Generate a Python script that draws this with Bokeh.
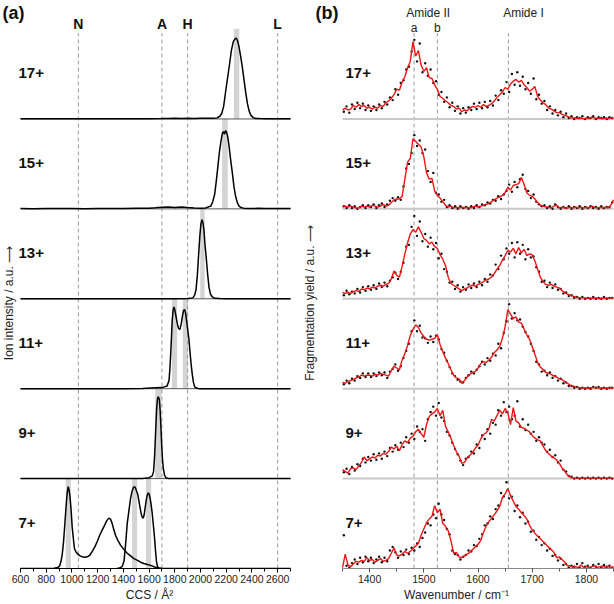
import numpy as np
from bokeh.plotting import figure
from bokeh.layouts import row
from bokeh.models import Range1d, SingleIntervalTicker
from bokeh.core.properties import value
from bokeh.embed import file_html
from bokeh.resources import INLINE

FONT = "Liberation Sans"
charges = ["7+", "9+", "11+", "13+", "15+", "17+"]

# ---------------- panel (a): arrival time / CCS distributions ----------------
ref_pos = [1050, 1700, 1900, 2600]
ref_lab = ["N", "A", "H", "L"]

ccs_17_x = [600, 700, 800, 900, 1000, 1100, 1200, 1300, 1400, 1500, 1600, 1700, 1750, 1800, 1850, 1900, 1950, 2000, 2050, 2100,
            2130, 2150, 2165, 2180, 2195, 2210, 2225, 2240, 2255, 2268, 2278, 2288, 2300, 2312, 2325, 2338, 2352, 2365, 2378, 2392,
            2410, 2430, 2460, 2500, 2550, 2600, 2650, 2700]
ccs_17_y = [0.002, 0.003, 0.001, 0.003, 0.002, 0.001, 0.003, 0.002, 0.001, 0.003, 0.002, 0.004, 0.006, 0.008, 0.006, 0.008, 0.006, 0.008, 0.007, 0.008,
            0.012, 0.03, 0.06, 0.14, 0.30, 0.45, 0.60, 0.76, 0.86, 0.89, 0.90, 0.87, 0.80, 0.70, 0.58, 0.44, 0.29, 0.17, 0.09, 0.04,
            0.015, 0.006, 0.004, 0.002, 0.003, 0.001, 0.002, 0.001]

ccs_15_x = [600, 700, 800, 900, 1000, 1100, 1200, 1300, 1400, 1500, 1600, 1650, 1700, 1750, 1800, 1850, 1900, 1950, 2000, 2040,
            2060, 2080, 2095, 2110, 2122, 2135, 2147, 2160, 2170, 2178, 2186, 2192, 2198, 2205, 2212, 2222, 2234, 2246, 2260, 2273,
            2286, 2300, 2315, 2335, 2360, 2400, 2450, 2500, 2550, 2600, 2650, 2700]
ccs_15_y = [0.004, 0.002, 0.005, 0.003, 0.004, 0.002, 0.005, 0.003, 0.004, 0.006, 0.008, 0.012, 0.018, 0.02, 0.016, 0.02, 0.014, 0.01, 0.008, 0.01,
            0.02, 0.03, 0.08, 0.16, 0.30, 0.47, 0.63, 0.76, 0.84, 0.86, 0.83, 0.86, 0.87, 0.84, 0.80, 0.70, 0.55, 0.42, 0.25, 0.14,
            0.07, 0.03, 0.015, 0.008, 0.005, 0.004, 0.006, 0.003, 0.005, 0.003, 0.004, 0.003]

ccs_13_x = [600, 800, 1000, 1200, 1400, 1600, 1800, 1900, 1940, 1955, 1965, 1975, 1985, 1995, 2003, 2011, 2019, 2027, 2035, 2045,
            2055, 2066, 2078, 2092, 2110, 2150, 2200, 2300, 2400, 2500, 2600, 2700]
ccs_13_y = [0, 0, 0, 0, 0, 0, 0.001, 0.003, 0.01, 0.04, 0.10, 0.25, 0.48, 0.70, 0.83, 0.88, 0.85, 0.76, 0.60, 0.45,
            0.28, 0.13, 0.05, 0.02, 0.005, 0.002, 0, 0, 0, 0, 0, 0]

ccs_11_x = [600, 800, 1000, 1200, 1400, 1550, 1650, 1700, 1740, 1755, 1762, 1768, 1774, 1780, 1787, 1793, 1800, 1810, 1820, 1830,
            1840, 1850, 1860, 1868, 1876, 1884, 1893, 1902, 1910, 1920, 1928, 1936, 1945, 1955, 1965, 1980, 2000, 2100, 2300, 2500, 2700]
ccs_11_y = [0, 0, 0, 0, 0, 0.002, 0.01, 0.012, 0.03, 0.09, 0.22, 0.38, 0.56, 0.76, 0.87, 0.91, 0.88, 0.80, 0.72, 0.67,
            0.66, 0.72, 0.81, 0.87, 0.88, 0.84, 0.74, 0.64, 0.55, 0.38, 0.26, 0.16, 0.07, 0.02, 0.01, 0.003, 0, 0, 0, 0, 0]

ccs_9_x = [600, 800, 1000, 1200, 1400, 1550, 1600, 1625, 1635, 1643, 1651, 1658, 1664, 1669, 1675, 1680, 1686, 1692, 1698, 1704,
           1711, 1720, 1730, 1750, 1800, 2000, 2200, 2400, 2700]
ccs_9_y = [0, 0, 0, 0, 0, 0.002, 0.01, 0.03, 0.08, 0.25, 0.52, 0.75, 0.87, 0.91, 0.90, 0.88, 0.76, 0.58, 0.38, 0.22,
           0.11, 0.04, 0.01, 0.002, 0, 0, 0, 0, 0]

ccs_7a_x = [600, 700, 800, 860, 890, 905, 915, 925, 935, 945, 955, 963, 971, 978, 985, 993, 1002, 1012, 1020, 1033,
            1046, 1063, 1080, 1100, 1119, 1140, 1158, 1178, 1197, 1216, 1236, 1254, 1270, 1287, 1300, 1313, 1326, 1339, 1358, 1378,
            1405, 1430, 1456, 1482, 1510, 1534, 1560, 1586, 1612, 1638, 1660, 1680, 1720, 1800, 2000, 2200, 2400, 2700]
ccs_7a_y = [0, 0, 0, 0.003, 0.01, 0.03, 0.08, 0.16, 0.30, 0.50, 0.70, 0.84, 0.91, 0.87, 0.80, 0.66, 0.46, 0.32, 0.22, 0.18,
            0.16, 0.14, 0.13, 0.125, 0.13, 0.15, 0.19, 0.24, 0.30, 0.37, 0.43, 0.48, 0.53, 0.56, 0.55, 0.50, 0.43, 0.37, 0.31, 0.26,
            0.21, 0.17, 0.14, 0.11, 0.09, 0.07, 0.055, 0.045, 0.035, 0.02, 0.01, 0.003, 0, 0, 0, 0, 0, 0]

ccs_7b_x = [1350, 1370, 1390, 1405, 1418, 1430, 1443, 1456, 1468, 1478, 1487, 1496, 1505, 1513, 1522, 1532, 1540, 1547, 1555, 1562,
            1570, 1578, 1586, 1594, 1600, 1607, 1615, 1624, 1632, 1642, 1650, 1658, 1666, 1676, 1700]
ccs_7b_y = [0, 0.005, 0.02, 0.08, 0.28, 0.50, 0.64, 0.78, 0.86, 0.90, 0.91, 0.89, 0.85, 0.82, 0.74, 0.66, 0.60, 0.57, 0.56, 0.60,
            0.68, 0.76, 0.82, 0.84, 0.83, 0.79, 0.72, 0.62, 0.50, 0.35, 0.20, 0.07, 0.02, 0.005, 0]

ccs_traces = [(0, ccs_7a_x, ccs_7a_y), (0, ccs_7b_x, ccs_7b_y), (1, ccs_9_x, ccs_9_y), (2, ccs_11_x, ccs_11_y),
              (3, ccs_13_x, ccs_13_y), (4, ccs_15_x, ccs_15_y), (5, ccs_17_x, ccs_17_y)]

# highlighted CCS values (panel index, centre, width)
bar_panel = [0, 0, 0, 1, 2, 2, 3, 4, 5]
bar_center = [972, 1487, 1596, 1672, 1798, 1882, 2015, 2190, 2281]
bar_width = [40, 40, 40, 48, 40, 40, 34, 44, 42]

# ---------------- panel (b): IR spectra ----------------
amide_pos = [1482, 1525, 1656]

ir_17 = [0.10, 0.12, 0.10, 0.11, 0.15, 0.13, 0.16, 0.14, 0.15, 0.12, 0.13, 0.11, 0.13, 0.12, 0.15, 0.14, 0.18, 0.20, 0.23, 0.27,
         0.33, 0.32, 0.41, 0.47, 0.57, 0.64, 0.86, 0.70, 0.76, 0.60, 0.53, 0.57, 0.46, 0.45, 0.38, 0.33, 0.25, 0.23, 0.20, 0.18,
         0.15, 0.14, 0.11, 0.12, 0.08, 0.10, 0.09, 0.12, 0.14, 0.13, 0.15, 0.13, 0.16, 0.14, 0.15, 0.17, 0.20, 0.24, 0.27, 0.30,
         0.35, 0.33, 0.39, 0.42, 0.44, 0.41, 0.43, 0.38, 0.35, 0.31, 0.33, 0.36, 0.25, 0.21, 0.18, 0.16, 0.12, 0.11, 0.09, 0.07,
         0.07, 0.05, 0.04, 0.03, 0.015, 0.01, 0.01, 0.005, 0.01, 0.0, 0.01, 0.005, 0.02, 0.01, 0.005, 0.01, 0.0, 0.01, 0.005, 0.01, 0.005]
ir_15 = [0.02, 0.03, 0.02, 0.03, 0.02, 0.01, 0.01, 0.03, 0.02, 0.03, 0.02, 0.04, 0.03, 0.02, 0.03, 0.05, 0.03, 0.04, 0.07, 0.10,
         0.11, 0.11, 0.14, 0.33, 0.52, 0.56, 0.78, 0.75, 0.72, 0.69, 0.58, 0.40, 0.33, 0.34, 0.20, 0.15, 0.12, 0.08, 0.04, 0.02,
         0.03, 0.01, 0.02, 0.01, 0.02, 0.01, 0.02, 0.01, 0.02, 0.03, 0.02, 0.03, 0.04, 0.05, 0.06, 0.08, 0.10, 0.12, 0.13, 0.15,
         0.18, 0.24, 0.21, 0.26, 0.27, 0.28, 0.35, 0.27, 0.18, 0.15, 0.14, 0.11, 0.07, 0.04, 0.03, 0.02, 0.02, 0.01, 0.03, 0.04,
         0.01, 0.02, 0.01, 0.01, 0.02, 0.01, 0.02, 0.01, 0.02, 0.01, 0.02, 0.01, 0.03, 0.02, 0.01, 0.02, 0.01, 0.02, 0.01, 0.04, 0.10]
ir_13 = [0.07, 0.06, 0.07, 0.06, 0.08, 0.09, 0.08, 0.11, 0.10, 0.12, 0.11, 0.13, 0.12, 0.14, 0.15, 0.14, 0.16, 0.17, 0.22, 0.31,
         0.26, 0.24, 0.36, 0.50, 0.62, 0.72, 0.77, 0.74, 0.80, 0.74, 0.67, 0.65, 0.61, 0.63, 0.58, 0.56, 0.49, 0.44, 0.37, 0.24,
         0.17, 0.15, 0.13, 0.11, 0.09, 0.11, 0.12, 0.14, 0.15, 0.14, 0.16, 0.17, 0.19, 0.21, 0.22, 0.24, 0.28, 0.33, 0.37, 0.43,
         0.48, 0.54, 0.52, 0.56, 0.50, 0.57, 0.51, 0.55, 0.48, 0.50, 0.49, 0.42, 0.33, 0.24, 0.19, 0.16, 0.15, 0.16, 0.14, 0.13,
         0.12, 0.09, 0.07, 0.05, 0.04, 0.03, 0.02, 0.015, 0.01, 0.01, 0.005, 0.01, 0.005, 0.01, 0.005, 0.0, 0.01, 0.005, 0.01, 0.005, 0.01]
ir_11 = [0.07, 0.06, 0.08, 0.09, 0.10, 0.12, 0.13, 0.15, 0.14, 0.15, 0.15, 0.14, 0.16, 0.15, 0.17, 0.16, 0.15, 0.14, 0.20, 0.25,
         0.23, 0.21, 0.32, 0.39, 0.48, 0.59, 0.66, 0.71, 0.68, 0.62, 0.58, 0.55, 0.54, 0.55, 0.56, 0.60, 0.49, 0.41, 0.34, 0.28,
         0.21, 0.15, 0.12, 0.11, 0.06, 0.09, 0.13, 0.16, 0.18, 0.19, 0.23, 0.28, 0.30, 0.29, 0.32, 0.35, 0.40, 0.43, 0.47, 0.56,
         0.69, 0.88, 0.83, 0.78, 0.80, 0.74, 0.73, 0.66, 0.60, 0.55, 0.47, 0.38, 0.29, 0.24, 0.21, 0.18, 0.17, 0.16, 0.14, 0.13,
         0.11, 0.10, 0.08, 0.06, 0.04, 0.03, 0.02, 0.015, 0.01, 0.01, 0.005, 0.01, 0.01, 0.015, 0.01, 0.005, 0.01, 0.005, 0.01, 0.005, 0.01]
ir_9 = [0.10, 0.08, 0.06, 0.11, 0.12, 0.10, 0.14, 0.18, 0.24, 0.20, 0.22, 0.24, 0.23, 0.26, 0.25, 0.28, 0.27, 0.30, 0.35, 0.33,
        0.36, 0.31, 0.38, 0.42, 0.40, 0.45, 0.47, 0.52, 0.55, 0.50, 0.46, 0.60, 0.69, 0.72, 0.74, 0.78, 0.70, 0.76, 0.58, 0.52,
        0.45, 0.37, 0.30, 0.25, 0.17, 0.18, 0.23, 0.26, 0.29, 0.34, 0.37, 0.44, 0.49, 0.51, 0.55, 0.66, 0.64, 0.70, 0.76, 0.72,
        0.78, 0.73, 0.60, 0.79, 0.64, 0.62, 0.57, 0.56, 0.54, 0.52, 0.48, 0.45, 0.43, 0.42, 0.36, 0.31, 0.28, 0.25, 0.23, 0.21,
        0.17, 0.12, 0.08, 0.04, 0.015, 0.005, 0.005, 0.005, 0.005, 0.005, 0.005, 0.005, 0.005, 0.005, 0.005, 0.005, 0.005, 0.005, 0.005, 0.005, 0.005]
ir_7 = [0.01, 0.16, 0.04, 0.02, 0.05, 0.08, 0.07, 0.09, 0.08, 0.12, 0.09, 0.10, 0.07, 0.09, 0.11, 0.08, 0.09, 0.11, 0.17, 0.23,
        0.15, 0.14, 0.16, 0.19, 0.17, 0.19, 0.22, 0.25, 0.28, 0.37, 0.44, 0.51, 0.55, 0.58, 0.70, 0.62, 0.66, 0.50, 0.47, 0.42,
        0.31, 0.17, 0.18, 0.13, 0.12, 0.14, 0.16, 0.18, 0.21, 0.24, 0.27, 0.31, 0.40, 0.47, 0.52, 0.56, 0.60, 0.64, 0.69, 0.79,
        0.83, 0.89, 0.81, 0.75, 0.69, 0.66, 0.62, 0.59, 0.55, 0.48, 0.43, 0.39, 0.36, 0.33, 0.30, 0.27, 0.24, 0.21, 0.18, 0.12,
        0.13, 0.10, 0.07, 0.03, 0.03, 0.01, 0.02, 0.01, 0.04, 0.01, 0.02, 0.01, 0.02, 0.03, 0.01, 0.02, 0.03, 0.01, 0.02, 0.01, 0.02]

dots_17 = [0.08, 0.14, 0.07, 0.16, 0.11, 0.18, 0.12, 0.17, 0.10, 0.15, 0.09, 0.14, 0.10, 0.16, 0.12, 0.19, 0.16, 0.24, 0.21, 0.33,
           0.27, 0.40, 0.43, 0.55, 0.58, 0.75, 0.88, 0.64, 0.84, 0.52, 0.62, 0.48, 0.55, 0.40, 0.42, 0.27, 0.30, 0.19, 0.24, 0.13,
           0.18, 0.09, 0.14, 0.06, 0.12, 0.07, 0.13, 0.10, 0.17, 0.11, 0.18, 0.12, 0.19, 0.13, 0.20, 0.15, 0.26, 0.21, 0.32, 0.28,
           0.41, 0.30, 0.50, 0.38, 0.52, 0.37, 0.47, 0.33, 0.40, 0.28, 0.45, 0.22, 0.27, 0.17, 0.20, 0.10, 0.14, 0.06, 0.10, 0.04,
           0.08, 0.02, 0.06, 0.01, 0.03, 0.0, 0.02, 0.01, 0.03, 0.0, 0.02, 0.01, 0.03, 0.0, 0.02, 0.01, 0.02, 0.0, 0.02, 0.01]
dots_15 = [0.03, 0.01, 0.04, 0.01, 0.03, 0.0, 0.02, 0.04, 0.01, 0.04, 0.02, 0.05, 0.01, 0.04, 0.06, 0.02, 0.05, 0.09, 0.12, 0.09,
           0.13, 0.10, 0.25, 0.45, 0.50, 0.62, 0.82, 0.70, 0.76, 0.62, 0.66, 0.42, 0.30, 0.40, 0.18, 0.16, 0.08, 0.10, 0.02, 0.04,
           0.01, 0.03, 0.0, 0.03, 0.01, 0.02, 0.0, 0.03, 0.01, 0.04, 0.02, 0.05, 0.04, 0.07, 0.06, 0.10, 0.09, 0.14, 0.11, 0.16,
           0.20, 0.27, 0.19, 0.30, 0.24, 0.33, 0.38, 0.22, 0.20, 0.12, 0.16, 0.08, 0.05, 0.03, 0.04, 0.01, 0.03, 0.0, 0.05, 0.02,
           0.0, 0.02, 0.01, 0.03, 0.0, 0.02, 0.01, 0.03, 0.0, 0.02, 0.01, 0.03, 0.01, 0.02, 0.0, 0.03, 0.01, 0.02, 0.02, 0.07]
dots_13 = [0.04, 0.09, 0.05, 0.08, 0.06, 0.11, 0.07, 0.13, 0.09, 0.14, 0.10, 0.15, 0.11, 0.17, 0.13, 0.18, 0.14, 0.20, 0.24, 0.29,
           0.22, 0.30, 0.40, 0.58, 0.60, 0.80, 0.92, 0.70, 0.86, 0.64, 0.72, 0.58, 0.68, 0.55, 0.62, 0.45, 0.50, 0.33, 0.30, 0.18,
           0.19, 0.11, 0.15, 0.08, 0.13, 0.10, 0.16, 0.12, 0.17, 0.13, 0.19, 0.15, 0.22, 0.19, 0.27, 0.26, 0.38, 0.33, 0.48, 0.44,
           0.56, 0.50, 0.62, 0.46, 0.63, 0.50, 0.60, 0.44, 0.55, 0.46, 0.47, 0.35, 0.30, 0.19, 0.20, 0.13, 0.18, 0.12, 0.16, 0.10,
           0.11, 0.06, 0.07, 0.03, 0.04, 0.01, 0.02, 0.0, 0.02, 0.0, 0.01, 0.0, 0.02, 0.0, 0.01, 0.0, 0.02, 0.0, 0.01, 0.01]
dots_11 = [0.05, 0.09, 0.06, 0.11, 0.09, 0.14, 0.12, 0.17, 0.13, 0.17, 0.13, 0.17, 0.14, 0.18, 0.15, 0.18, 0.12, 0.19, 0.22, 0.27,
           0.20, 0.25, 0.34, 0.42, 0.50, 0.64, 0.76, 0.64, 0.70, 0.57, 0.56, 0.51, 0.58, 0.52, 0.59, 0.55, 0.44, 0.40, 0.31, 0.24,
           0.17, 0.14, 0.10, 0.08, 0.07, 0.12, 0.15, 0.19, 0.17, 0.21, 0.25, 0.30, 0.27, 0.34, 0.31, 0.39, 0.37, 0.50, 0.45, 0.62,
           0.75, 0.94, 0.78, 0.84, 0.76, 0.77, 0.69, 0.63, 0.58, 0.50, 0.42, 0.30, 0.27, 0.19, 0.20, 0.15, 0.18, 0.12, 0.14, 0.09,
           0.11, 0.06, 0.07, 0.03, 0.03, 0.01, 0.02, 0.0, 0.01, 0.0, 0.01, 0.0, 0.02, 0.01, 0.02, 0.0, 0.01, 0.0, 0.01, 0.01]
dots_9 = [0.07, 0.11, 0.05, 0.13, 0.09, 0.16, 0.14, 0.22, 0.18, 0.24, 0.20, 0.27, 0.21, 0.28, 0.22, 0.30, 0.25, 0.34, 0.30, 0.37,
          0.32, 0.40, 0.35, 0.46, 0.40, 0.50, 0.44, 0.58, 0.52, 0.55, 0.42, 0.66, 0.74, 0.80, 0.70, 0.84, 0.68, 0.64, 0.52, 0.48,
          0.40, 0.33, 0.27, 0.20, 0.15, 0.22, 0.24, 0.30, 0.28, 0.38, 0.34, 0.48, 0.44, 0.55, 0.50, 0.62, 0.60, 0.76, 0.70, 0.85,
          0.74, 0.80, 0.66, 0.70, 0.86, 0.58, 0.66, 0.54, 0.60, 0.50, 0.52, 0.42, 0.46, 0.40, 0.38, 0.30, 0.32, 0.24, 0.26, 0.18,
          0.20, 0.10, 0.08, 0.03, 0.02, 0.0, 0.01, 0.0, 0.01, 0.0, 0.01, 0.0, 0.01, 0.0, 0.01, 0.0, 0.01, 0.0, 0.01, 0.0]
dots_7 = [0.37, 0.03, 0.01, 0.06, 0.10, 0.05, 0.12, 0.07, 0.13, 0.08, 0.12, 0.06, 0.10, 0.13, 0.07, 0.12, 0.08, 0.20, 0.24, 0.18,
          0.12, 0.19, 0.15, 0.21, 0.16, 0.23, 0.20, 0.28, 0.24, 0.34, 0.40, 0.50, 0.48, 0.60, 0.56, 0.72, 0.60, 0.54, 0.44, 0.38,
          0.20, 0.16, 0.15, 0.10, 0.13, 0.15, 0.20, 0.19, 0.26, 0.25, 0.33, 0.38, 0.48, 0.50, 0.58, 0.55, 0.66, 0.70, 0.84, 0.80,
          0.96, 0.78, 0.80, 0.64, 0.70, 0.57, 0.62, 0.50, 0.52, 0.41, 0.42, 0.32, 0.35, 0.26, 0.28, 0.20, 0.22, 0.14, 0.15, 0.09,
          0.11, 0.04, 0.05, 0.01, 0.03, 0.02, 0.05, 0.01, 0.06, 0.02, 0.03, 0.01, 0.04, 0.02, 0.05, 0.01, 0.04, 0.02, 0.03, 0.01]

ir_lines = [ir_7, ir_9, ir_11, ir_13, ir_15, ir_17]
ir_dots = [dots_7, dots_9, dots_11, dots_13, dots_15, dots_17]
wn_line = list(range(1350, 1851, 5))
wn_dots = [1352.5 + 5 * i for i in range(100)]

# ---------------- layout constants ----------------
Y_TOP = 6.3175
H = 604
DASH_TOP = 5.955


def style_axis(ax, line_color, tick_color):
    ax.axis_line_color = line_color
    ax.axis_line_width = 1
    ax.major_tick_line_color = tick_color
    ax.minor_tick_line_color = tick_color
    ax.major_tick_in = 0
    ax.major_tick_out = 4
    ax.minor_tick_in = 0
    ax.minor_tick_out = 3
    ax.major_label_text_font = FONT
    ax.major_label_text_font_size = "10.5px"
    ax.major_label_text_color = "#222222"
    ax.major_label_standoff = 2
    ax.axis_label_text_font = FONT
    ax.axis_label_text_font_size = "12px"
    ax.axis_label_text_font_style = "normal"
    ax.axis_label_text_color = "#222222"
    ax.axis_label_standoff = 2


def base_fig(width, x0, x1):
    p = figure(width=width, height=H, x_range=Range1d(x0, x1), y_range=Range1d(0, Y_TOP),
               output_backend="svg", toolbar_location=None, y_axis_location=None,
               min_border_left=0, min_border_right=0, min_border_top=0, min_border_bottom=0)
    p.outline_line_color = None
    p.grid.visible = False
    p.background_fill_color = "white"
    p.border_fill_color = "white"
    return p


# ---------------- left figure ----------------
pL = base_fig(298, 444.4, 2762.2)
axL = pL.xaxis[0]
axL.bounds = (600, 2700)
axL.ticker = SingleIntervalTicker(interval=200, num_minor_ticks=2)
axL.axis_label = "CCS / Å²"
style_axis(axL, "black", "black")

pL.quad(left=[c - w / 2 for c, w in zip(bar_center, bar_width)],
        right=[c + w / 2 for c, w in zip(bar_center, bar_width)],
        bottom=bar_panel, top=[b + 1 for b in bar_panel],
        fill_color="#d4d4d4", line_color=None)
pL.segment(x0=ref_pos, y0=[0] * 4, x1=ref_pos, y1=[DASH_TOP] * 4,
           line_color="#9a9a9a", line_width=1, line_dash="4 3")
pL.segment(x0=[600] * 5, y0=[1, 2, 3, 4, 5], x1=[2700] * 5, y1=[1, 2, 3, 4, 5],
           line_color="#555555", line_width=1)
for k, xs, ys in ccs_traces:
    pL.line(xs, [v + k for v in ys], line_color="black", line_width=1.5)

pL.text(x=ref_pos, y=[6.061] * 4, text=ref_lab, text_font=value(FONT), text_font_size="14px",
        text_font_style="bold", text_align="center", text_baseline="middle", text_color="#111111")
pL.text(x=[584] * 6, y=[k + 0.51 for k in range(6)], text=charges, text_font=value(FONT),
        text_font_size="15px", text_font_style="bold", text_align="left", text_baseline="middle",
        text_color="#111111")
pL.text(x=[460], y=[6.295], text=["(a)"], text_font=value(FONT), text_font_size="18px",
        text_font_style="bold", text_align="left", text_baseline="top", text_color="#111111")
pL.text(x=[506.7], y=[2.953], text=["Ion intensity / a.u. ⟶"], angle=np.pi / 2, text_font=value(FONT),
        text_font_size="12px", text_align="center", text_baseline="middle", text_color="#222222")

# ---------------- right figure ----------------
pR = base_fig(316, 1268.8, 1851.8)
axR = pR.xaxis[0]
axR.bounds = (1350, 1850)
axR.ticker = SingleIntervalTicker(interval=100, num_minor_ticks=2)
axR.axis_label = "Wavenumber / cm⁻¹"
style_axis(axR, "#888888", "#555555")

pR.segment(x0=amide_pos, y0=[0] * 3, x1=amide_pos, y1=[DASH_TOP] * 3,
           line_color="#9a9a9a", line_width=1, line_dash="4 3")
pR.segment(x0=[1350] * 5, y0=[1, 2, 3, 4, 5], x1=[1850] * 5, y1=[1, 2, 3, 4, 5],
           line_color="#c8c8c8", line_width=2)
for k in range(6):
    pR.scatter(wn_dots, [v + k for v in ir_dots[k]], size=2.4, marker="circle",
               fill_color="#111111", line_color=None)
    pR.line(wn_line, [v + k for v in ir_lines[k]], line_color="#f01414", line_width=1.4)

pR.text(x=[1508, 1684], y=[6.173, 6.173], text=["Amide II", "Amide I"], text_font=value(FONT),
        text_font_size="12px", text_align="center", text_baseline="middle", text_color="#222222")
pR.text(x=[1482, 1525], y=[6.017, 6.017], text=["a", "b"], text_font=value(FONT),
        text_font_size="12px", text_align="center", text_baseline="middle", text_color="#222222")
pR.text(x=[1355.5] * 6, y=[k + 0.51 for k in range(6)], text=charges, text_font=value(FONT),
        text_font_size="15px", text_font_style="bold", text_align="left", text_baseline="middle",
        text_color="#111111")
pR.text(x=[1300.2], y=[6.295], text=["(b)"], text_font=value(FONT), text_font_size="18px",
        text_font_style="bold", text_align="left", text_baseline="top", text_color="#111111")
pR.text(x=[1290.9], y=[2.953], text=["Fragmentation yield / a.u. ⟶"], angle=np.pi / 2,
        text_font=value(FONT), text_font_size="12px", text_align="center", text_baseline="middle",
        text_color="#222222")

layout = row(pL, pR)
open("out.html", "w").write(file_html(layout, INLINE))
